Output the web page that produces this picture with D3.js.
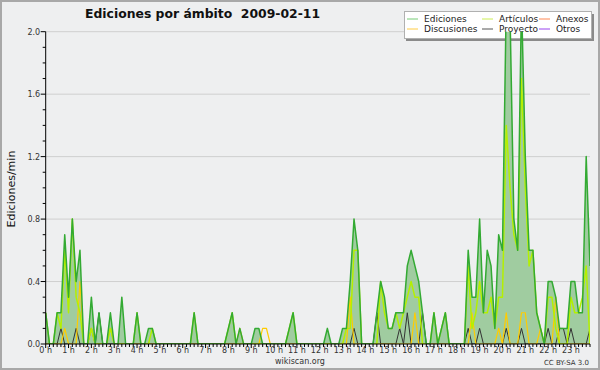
<!DOCTYPE html>
<html lang="es">
<head>
<meta charset="UTF-8" />
<title>Ediciones por ámbito</title>
<script src="https://d3js.org/d3.v7.min.js"></script>
<style>
  body { margin: 0; background: #fff; }
  svg { display: block; font-family: "DejaVu Sans", sans-serif; }
</style>
</head>
<body>
<div id="chart"></div>
<script>
// una fila = 2 horas (12 intervalos de 10 min)
const ediciones = [
  0.2,0,0,0.2,0.2,0.7,0.3,0.8,0.4,0.6,0,0,
  0.3,0,0.2,0,0,0.2,0,0,0.3,0,0,0,
  0.2,0,0,0.1,0.1,0,0,0,0,0,0,0,
  0,0,0,0.2,0,0,0,0,0,0,0,0,
  0.1,0.2,0,0.1,0,0,0,0.1,0.1,0,0,0,
  0,0,0,0,0.1,0.2,0,0,0,0,0,0,
  0,0,0.1,0,0,0,0.1,0.1,0.4,0.8,0.6,0,
  0,0,0,0.2,0.4,0.3,0.1,0.1,0.2,0.2,0.2,0.5,
  0.6,0.5,0.4,0.2,0,0,0.2,0,0.1,0.2,0,0,
  0,0,0,0.6,0.3,0.3,0.8,0.2,0.6,0.5,0.1,0.7,
  0.6,2.2,2.1,0.8,0.6,2.2,1.2,0.6,0.6,0.2,0.1,0,
  0.4,0.4,0.3,0.1,0.1,0.1,0.4,0.4,0.2,0.2,1.2,0.5
];
const articulos = [
  0.2,0,0,0.2,0.1,0.6,0.2,0.8,0.3,0.2,0,0,
  0.1,0,0,0,0,0.1,0,0,0,0,0,0,
  0.2,0,0,0,0.1,0,0,0,0,0,0,0,
  0,0,0,0.2,0,0,0,0,0,0,0,0,
  0.1,0.2,0,0,0,0,0,0,0,0,0,0,
  0,0,0,0,0.1,0.2,0,0,0,0,0,0,
  0,0,0,0,0,0,0,0.1,0.1,0.6,0.6,0,
  0,0,0,0,0.4,0.2,0.1,0.1,0.2,0.1,0.2,0.3,
  0.4,0.3,0.3,0,0,0,0.2,0,0.1,0.2,0,0,
  0,0,0,0.5,0.1,0.2,0.4,0.2,0.2,0.3,0.1,0.3,
  0.3,1.4,1.0,0.7,0.6,1.7,1.0,0.5,0.6,0.2,0.1,0,
  0.3,0.3,0.1,0,0,0,0.3,0.2,0.2,0.3,0.5,0
];
const discusiones = [
  0,0,0,0,0,0.1,0,0,0,0.4,0,0,
  0.1,0,0,0,0,0.1,0,0,0,0,0,0,
  0,0,0,0,0,0,0,0,0,0,0,0,
  0,0,0,0,0,0,0,0,0,0,0,0,
  0,0,0,0.1,0,0,0,0,0,0.1,0.1,0,
  0,0,0,0,0,0,0,0,0,0,0,0,
  0,0,0,0,0,0,0,0,0.3,0,0,0,
  0,0,0,0,0,0,0,0,0,0,0,0,
  0,0.2,0,0,0,0,0,0,0,0,0,0,
  0,0,0,0,0.2,0,0,0,0,0,0,0.1,
  0,0.2,0,0,0,0.2,0.2,0,0,0,0.1,0,
  0,0,0.3,0,0,0,0,0,0,0,0,0
];
const proyecto = [
  0,0,0,0,0.1,0,0,0,0.1,0,0,0,
  0.1,0,0.2,0,0,0,0,0,0,0,0,0,
  0,0,0,0,0,0,0,0,0,0,0,0,
  0,0,0,0,0,0,0,0,0,0,0,0,
  0,0,0,0,0,0,0,0,0,0,0,0,
  0,0,0,0,0,0,0,0,0,0,0,0,
  0,0,0,0,0,0,0,0,0,0.1,0,0,
  0,0,0,0.2,0,0,0,0,0,0.1,0,0.2,
  0,0,0,0.2,0,0,0,0,0,0,0,0,
  0,0,0,0.1,0,0,0.1,0,0,0,0,0,
  0,0.1,0,0,0,0.1,0,0,0,0,0,0,
  0.1,0,0,0.1,0.1,0,0.1,0,0,0,0,0.1
];
const hourLabels = ["0 h","1 h","2 h","3 h","4 h","5 h","6 h","7 h","8 h","9 h","10 h","11 h",
  "12 h","13 h","14 h","15 h","16 h","17 h","18 h","19 h","20 h","21 h","22 h","23 h"];
const yTicks = [0, 0.4, 0.8, 1.2, 1.6, 2.0];
const legendItems = [
  { name: "Ediciones",   color: "#77cc77" },
  { name: "Artículos",   color: "#ccee55" },
  { name: "Anexos",      color: "#ff8855" },
  { name: "Discusiones", color: "#ffcc44" },
  { name: "Proyecto",    color: "#555555" },
  { name: "Otros",       color: "#9944ee" }
];

const W = 600, H = 370;
const svg = d3.select("#chart").append("svg").attr("width", W).attr("height", H);

svg.append("rect").attr("x", 1).attr("y", 1).attr("width", W - 2).attr("height", H - 2)
  .attr("fill", "#eeeff0").attr("stroke", "#a8a8a8").attr("stroke-width", 2);

const x = d3.scaleLinear().domain([0, 143]).range([45.7, 590]);
const y = d3.scaleLinear().domain([0, 2]).range([344, 31.7]);

// rejilla
svg.append("g").selectAll("line").data(yTicks.filter(d => d > 0)).join("line")
  .attr("x1", x(0)).attr("x2", x(143))
  .attr("y1", d => y(d)).attr("y2", d => y(d))
  .attr("stroke", "#cfcfcf").attr("stroke-width", 1);

// leyenda (las curvas pasan por encima)
const lg = svg.append("g");
lg.append("rect").attr("x", 406).attr("y", 14).attr("width", 188).attr("height", 27).attr("fill", "#8a8a8a");
lg.append("rect").attr("x", 404.5).attr("y", 11.5).attr("width", 187).attr("height", 27)
  .attr("fill", "#fff").attr("stroke", "#b0b0b0");
const colX = [407, 482, 539];
legendItems.forEach((it, i) => {
  const cx = colX[i % 3], cy = i < 3 ? 19 : 29;
  lg.append("line").attr("x1", cx).attr("x2", cx + 11).attr("y1", cy).attr("y2", cy)
    .attr("stroke", it.color).attr("stroke-width", 1);
  lg.append("text").attr("x", cx + 17).attr("y", cy + 3.3).attr("font-size", 9)
    .attr("fill", "#222").text(it.name);
});

svg.append("clipPath").attr("id", "plot").append("rect")
  .attr("x", x(0)).attr("y", y(2)).attr("width", x(143) - x(0)).attr("height", y(0) - y(2));

const plot = svg.append("g").attr("clip-path", "url(#plot)");
const idx = d3.range(ediciones.length);

plot.append("path").datum(idx)
  .attr("fill", "#a0cca0")
  .attr("d", d3.area().x(i => x(i)).y0(y(0)).y1(i => y(ediciones[i])));

const line = arr => d3.line().x(i => x(i)).y(i => y(arr[i]));
[[proyecto, "#333333", 1], [discusiones, "#ffcc00", 1.2],
 [articulos, "#b4f000", 1.5], [ediciones, "#33aa33", 1.5]].forEach(([arr, c, w]) => {
  plot.append("path").datum(idx).attr("fill", "none").attr("stroke", c)
    .attr("stroke-width", w).attr("stroke-linejoin", "round").attr("d", line(arr));
});

// ejes
const axisY = svg.append("g").attr("transform", `translate(${x(0)},0)`);
axisY.append("line").attr("y1", y(2)).attr("y2", y(0)).attr("stroke", "#000");
axisY.selectAll(".minor").data(d3.range(0, 21)).join("line")
  .attr("x1", d => d % 4 === 0 ? -5 : -3).attr("x2", 0)
  .attr("y1", d => y(d / 10)).attr("y2", d => y(d / 10)).attr("stroke", "#000");
axisY.selectAll("text").data(yTicks).join("text")
  .attr("x", -5.5).attr("y", d => y(d) + 3).attr("text-anchor", "end")
  .attr("font-size", 8).attr("fill", "#333").text(d3.format(".1f"));

const axisX = svg.append("g").attr("transform", `translate(0,${y(0)})`);
axisX.append("line").attr("x1", x(0)).attr("x2", x(143)).attr("stroke", "#000");
axisX.selectAll(".tk").data(idx).join("line")
  .attr("x1", i => x(i)).attr("x2", i => x(i))
  .attr("y1", 0).attr("y2", i => i % 6 === 0 ? 4 : 3).attr("stroke", "#000");
axisX.selectAll("text").data(hourLabels).join("text")
  .attr("x", (d, h) => x(h * 6)).attr("y", 8.5).attr("text-anchor", "middle")
  .attr("font-size", 8).attr("fill", "#333").text(d => d);

// textos
svg.append("text").attr("x", 85).attr("y", 18).attr("font-size", 12.4).attr("font-weight", "bold")
  .attr("fill", "#111").style("white-space", "pre").text("Ediciones por ámbito  2009-02-11");
svg.append("text").attr("transform", "translate(15,189) rotate(-90)").attr("text-anchor", "middle")
  .attr("font-size", 11).attr("fill", "#111").text("Ediciones/min");
svg.append("text").attr("x", 300).attr("y", 364).attr("text-anchor", "middle")
  .attr("font-size", 8).attr("fill", "#333").text("wikiscan.org");
svg.append("text").attr("x", 589).attr("y", 365).attr("text-anchor", "end")
  .attr("font-size", 7).attr("fill", "#333").text("CC BY-SA 3.0");
</script>
</body>
</html>
